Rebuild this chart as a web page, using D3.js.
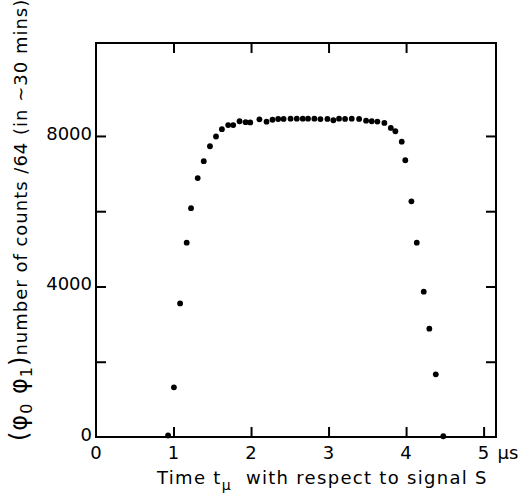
<!DOCTYPE html>
<html lang="en">
<meta charset="utf-8">
<title>Counts vs time</title>
<style>
  body { margin: 0; background: white; }
  text { font-family: "DejaVu Sans", sans-serif; fill: black; }
</style>
<body>
<svg id="canvas"></svg>
<script src="https://cdn.jsdelivr.net/npm/d3@7"></script>
<script>
    /////////////// data ///////////////
    var times  = [0.93, 1.005, 1.085, 1.17, 1.226, 1.312, 1.39, 1.47, 1.548, 1.624,
                  1.705, 1.77, 1.852, 1.93, 1.99, 2.108, 2.2, 2.277, 2.35, 2.42,
                  2.51, 2.59, 2.667, 2.735, 2.817, 2.895, 2.985, 3.062, 3.135, 3.213,
                  3.299, 3.394, 3.484, 3.557, 3.63, 3.72, 3.803, 3.862, 3.944, 3.99,
                  4.069, 4.138, 4.228, 4.30, 4.383, 4.48];
    var counts = [40, 1320, 3550, 5165, 6080, 6880, 7330, 7726, 7985, 8180,
                  8290, 8290, 8390, 8365, 8360, 8443, 8380, 8430, 8450, 8452,
                  8460, 8460, 8460, 8460, 8460, 8448, 8452, 8417, 8460, 8452,
                  8460, 8452, 8407, 8390, 8381, 8346, 8213, 8125, 7849, 7354,
                  6264, 5165, 3862, 2879, 1666, 20];
    var x_ticks       = [0, 1, 2, 3, 4, 5];
    var x_inner_ticks = [1, 2, 3, 4, 5];
    var y_ticks       = [2000, 4000, 6000, 8000];
    var y_labels      = [0, 4000, 8000];
    ////////////////////////////////////////////////////////////

    var W = 523, H = 500;
    var frame_l = 96, frame_r = 496, frame_t = 43, frame_b = 437;
    var tick_len = 10;

    var svg = d3.select("#canvas").attr("width", W).attr("height", H);

    var x = d3.scaleLinear().domain([0, 5.16]).range([frame_l, frame_r]);
    var y = d3.scaleLinear().domain([0, 10470]).range([frame_b, frame_t]);

    // frame
    svg.append("rect")
       .attr("x", frame_l).attr("y", frame_t)
       .attr("width", frame_r - frame_l).attr("height", frame_b - frame_t)
       .attr("fill", "none").attr("stroke", "black").attr("stroke-width", 2);

    // inward ticks, no labels (labels drawn separately)
    function tickStyle(g) {
        g.select(".domain").remove();
        g.selectAll(".tick line").attr("stroke", "black").attr("stroke-width", 2);
        g.selectAll(".tick text").remove();
    }
    svg.append("g").attr("transform", "translate(0," + frame_b + ")")
       .call(d3.axisTop(x).tickValues(x_inner_ticks).tickSize(tick_len)).call(tickStyle);
    svg.append("g").attr("transform", "translate(0," + frame_t + ")")
       .call(d3.axisBottom(x).tickValues([1, 2, 3, 4]).tickSize(tick_len)).call(tickStyle);
    svg.append("g").attr("transform", "translate(" + frame_l + ",0)")
       .call(d3.axisRight(y).tickValues(y_ticks).tickSize(tick_len)).call(tickStyle);
    svg.append("g").attr("transform", "translate(" + frame_r + ",0)")
       .call(d3.axisLeft(y).tickValues(y_ticks).tickSize(tick_len)).call(tickStyle);

    // x tick labels
    svg.append("g").selectAll("text").data(x_ticks).enter().append("text")
       .attr("x", function (d) { return x(d); })
       .attr("y", 459)
       .attr("text-anchor", "middle")
       .attr("font-size", 18)
       .text(function (d) { return d; });
    svg.append("text").attr("x", x(5) + 14).attr("y", 459)
       .attr("font-size", 18).text("\u00b5s");

    // y tick labels
    svg.append("g").selectAll("text").data(y_labels).enter().append("text")
       .attr("x", frame_l - 4)
       .attr("y", function (d) { return y(d) + 4; })
       .attr("text-anchor", "end")
       .attr("font-size", 18)
       .text(function (d) { return d; });

    // x title
    var xt = svg.append("text").attr("x", 157).attr("y", 484)
       .attr("font-size", 18).attr("letter-spacing", 1.3);
    xt.append("tspan").text("Time t");
    xt.append("tspan").attr("dy", 6).attr("font-size", 14).text("\u00b5");
    xt.append("tspan").attr("dy", -6).attr("xml:space", "preserve").text("  with respect to signal S");

    // y title
    var yt = svg.append("text")
       .attr("transform", "translate(27,441) rotate(-90)")
       .attr("font-size", 18).attr("letter-spacing", 1);
    yt.append("tspan").attr("font-size", 24).text("(\u03c6");
    yt.append("tspan").attr("dy", 5).attr("font-size", 16).text("0");
    yt.append("tspan").attr("dy", -5).attr("font-size", 24).text(" \u03c6");
    yt.append("tspan").attr("dy", 5).attr("font-size", 16).text("1");
    yt.append("tspan").attr("dy", -5).attr("font-size", 24).text(")");
    yt.append("tspan").text("number of counts /64 (in ~30 mins)");

    // points
    svg.append("g").selectAll("circle").data(times).enter().append("circle")
       .attr("cx", function (d) { return x(d); })
       .attr("cy", function (d, i) { return y(counts[i]); })
       .attr("r", 2.9)
       .attr("fill", "black");
</script>
</body>
</html>
